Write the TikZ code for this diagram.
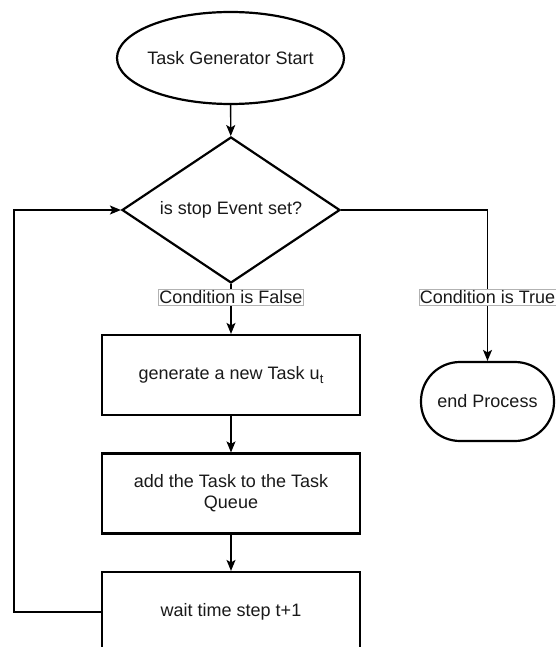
\documentclass[tikz,border=0pt]{standalone}
\usepackage{fontspec}
\setmainfont{Liberation Sans}
\usetikzlibrary{shapes.geometric,arrows.meta}

\tikzset{
  flowtext/.style={font=\fontsize{18}{21}\selectfont, text=black!90, align=center},
  startnode/.style={flowtext, draw, line width=2.2pt, ellipse, inner sep=0pt,
    minimum width=227pt, minimum height=92pt},
  decision/.style={flowtext, draw, line width=2.2pt, diamond, shape aspect=1.49,
    inner sep=0pt, minimum width=218pt, minimum height=146pt},
  process/.style={flowtext, draw, line width=2.2pt, rectangle, inner sep=0pt,
    minimum width=258pt, minimum height=80pt},
  terminal/.style={flowtext, draw, line width=2.2pt, rectangle, rounded corners=39pt,
    inner sep=0pt, minimum width=133pt, minimum height=79pt},
  link/.style={line width=1.4pt, -{Stealth[length=11pt,width=9pt,inset=2.5pt]}},
  edgelabel/.style={flowtext, fill=white, draw=black!30, line width=0.6pt,
    inner xsep=1pt, inner ysep=1.5pt}
}

\begin{document}
\begin{tikzpicture}[x=1pt, y=-1pt]
  \useasboundingbox (0,0) rectangle (556,647);
  \clip (0,0) rectangle (556,647);

  % flow nodes
  \node[startnode] (start) at (230.5,58) {\makebox[0pt]{Task Generator Start}};
  \node[decision] (check) at (231,210) {is stop Event set?};
  \node[process] (gen) at (231,375)
    {generate a new Task u\raisebox{-4.5pt}{\fontsize{13}{13}\selectfont t}};
  \node[process] (queue) at (231,493.5) {add the Task to the Task\\Queue};
  \node[process] (wait) at (231,612) {wait time step t+1};
  \node[terminal] (finish) at (487.5,401.5) {end Process};
  \coordinate (loopcorner) at (14,612);

  % connectors
  \draw[link] (start) -- (check);
  \draw[link] (check.south) -- node[edgelabel, pos=0.27] {Condition is False} (gen.north);
  \draw[link] (gen) -- (queue);
  \draw[link] (queue) -- (wait);
  \draw[link] (check.east) -| node[edgelabel, pos=0.79] {Condition is True} (finish.north);
  \draw[link] (wait.west) -- (loopcorner) |- (check.west);
\end{tikzpicture}
\end{document}
